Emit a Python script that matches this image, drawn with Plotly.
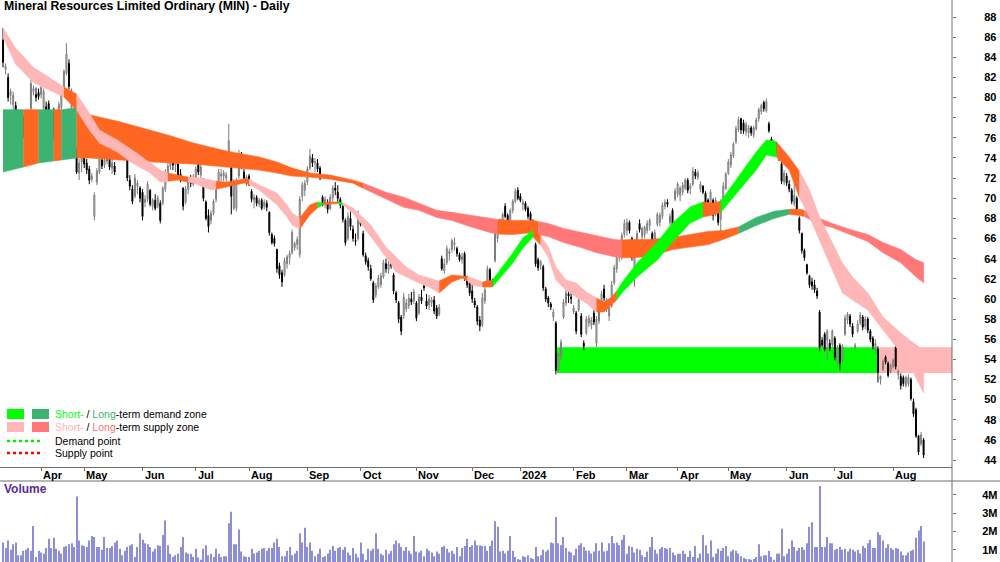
import pandas as pd
import plotly.graph_objects as go

TITLE = "Mineral Resources Limited Ordinary (MIN) - Daily"
START, END = "2023-03-13", "2024-08-19"
ASX_HOLIDAYS = ["2023-04-07", "2023-04-10", "2023-04-25", "2023-06-12", "2023-12-25", "2023-12-26",
                "2024-01-01", "2024-01-26", "2024-03-29", "2024-04-01", "2024-04-25", "2024-06-10"]

opens = [
    85.7, 82.8, 82.0, 80.2, 79.3, 79.2, 78.3, 77.3, 77.9, 76.6,
    77.2, 78.9, 80.6, 80.3, 80.5, 80.3, 78.9, 79.1, 79.4, 77.0,
    78.6, 77.0, 78.1, 79.0, 81.0, 82.4, 83.4, 79.0, 77.7, 74.7,
    72.5, 73.6, 74.0, 73.5, 72.9, 71.9, 68.2, 71.6, 72.6, 73.8,
    73.3, 73.7, 74.2, 73.0, 73.2, 74.0, 75.4, 75.8, 74.6, 74.8,
    71.8, 70.9, 70.2, 71.2, 71.0, 70.6, 69.6, 69.9, 70.8, 69.2,
    69.8, 69.2, 69.5, 69.5, 70.9, 72.4, 73.2, 73.8, 73.3, 73.4,
    72.4, 71.0, 69.6, 70.9, 71.6, 71.4, 72.0, 73.4, 72.3, 71.8,
    69.6, 68.3, 67.8, 68.5, 69.9, 71.5, 72.2, 72.2, 72.0, 73.7,
    73.6, 69.0, 69.0, 72.2, 74.4, 72.6, 71.8, 72.2, 70.7, 69.8,
    70.1, 69.4, 69.8, 69.2, 69.5, 68.6, 66.4, 66.0, 64.9, 63.3,
    62.6, 62.4, 63.5, 64.1, 64.6, 65.1, 65.4, 64.4, 70.2, 70.8,
    71.6, 73.0, 74.0, 73.5, 73.5, 73.0, 70.1, 69.6, 69.5, 69.0,
    70.0, 71.0, 70.6, 69.9, 69.2, 67.8, 66.0, 68.0, 66.9, 65.8,
    66.0, 67.7, 66.5, 64.3, 63.8, 63.0, 61.6, 60.4, 61.2, 61.4,
    62.2, 63.5, 62.9, 63.6, 62.4, 60.6, 59.6, 58.2, 58.3, 59.0,
    59.3, 60.0, 59.8, 59.6, 58.6, 60.2, 61.3, 59.8, 59.4, 59.6,
    59.9, 59.1, 58.5, 64.0, 62.8, 63.6, 64.5, 64.9, 65.4, 65.0,
    64.4, 63.9, 64.5, 62.1, 61.6, 60.8, 59.8, 59.2, 57.9, 57.4,
    59.8, 61.4, 62.9, 61.7, 63.8, 66.0, 66.9, 67.5, 69.2, 68.3,
    67.8, 68.8, 69.7, 70.8, 70.2, 69.4, 69.5, 69.0, 68.5, 67.6,
    65.4, 63.9, 63.3, 63.2, 61.0, 60.1, 59.5, 58.2, 57.6, 53.0,
    54.4, 58.2, 59.6, 60.5, 60.2, 58.7, 58.6, 58.9, 58.3, 55.6,
    56.6, 57.6, 57.4, 58.6, 55.6, 57.8, 59.0, 61.0, 59.0, 58.3,
    59.3, 61.6, 63.0, 64.2, 64.5, 66.4, 66.8, 67.6, 66.0, 62.5,
    65.6, 67.5, 66.2, 66.4, 66.8, 67.3, 66.5, 65.8, 67.4, 67.6,
    68.2, 69.2, 69.6, 67.6, 68.8, 69.9, 70.4, 70.3, 70.6, 71.0,
    71.8, 71.0, 71.4, 72.6, 72.1, 70.9, 71.2, 70.5, 69.8, 69.0,
    69.8, 68.5, 69.0, 67.9, 69.6, 71.0, 72.5, 73.3, 74.2, 75.6,
    76.8, 77.9, 77.5, 76.6, 76.5, 77.0, 76.3, 76.9, 77.9, 78.6,
    79.5, 78.7, 77.4, 75.9, 75.2, 75.4, 74.8, 73.4, 71.6, 72.2,
    71.4, 70.8, 69.5, 70.0, 68.0, 66.5, 64.8, 63.4, 62.3, 61.7,
    61.4, 60.8, 58.7, 55.9, 56.5, 55.9, 55.6, 55.5, 56.1, 53.8,
    55.4, 54.0, 56.5, 57.9, 58.3, 57.3, 55.2, 56.8, 57.6, 58.2,
    57.3, 58.0, 56.8, 56.1, 54.9, 55.0, 52.0, 53.0, 54.2, 53.6,
    52.8, 53.3, 55.2, 52.5, 52.3, 52.2, 51.4, 51.6, 52.0, 49.8,
    49.0, 46.4, 45.6, 46.0]

highs = [
    86.9, 83.4, 82.4, 80.9, 80.6, 79.6, 78.8, 78.6, 78.2, 77.8,
    77.6, 81.8, 81.2, 81.0, 80.9, 81.3, 80.9, 79.6, 79.7, 78.6,
    79.0, 78.3, 79.6, 80.6, 82.8, 85.4, 83.8, 80.9, 80.0, 75.0,
    73.9, 74.6, 74.2, 73.9, 73.2, 72.5, 70.6, 73.0, 74.2, 74.3,
    74.1, 74.6, 74.4, 73.9, 73.6, 75.9, 76.9, 76.0, 75.2, 75.1,
    72.3, 71.3, 72.4, 71.8, 71.2, 70.9, 70.3, 71.7, 70.9, 70.0,
    70.4, 70.3, 69.8, 71.2, 72.9, 73.5, 74.3, 74.2, 73.9, 73.6,
    72.9, 71.1, 71.2, 72.0, 72.3, 72.4, 73.2, 73.8, 73.5, 72.0,
    69.8, 68.9, 68.8, 69.9, 71.6, 72.9, 72.9, 72.8, 72.6, 77.4,
    73.9, 71.9, 72.0, 74.8, 74.6, 72.9, 72.3, 72.4, 70.9, 70.4,
    70.3, 70.0, 70.0, 69.9, 69.8, 68.7, 66.6, 66.3, 65.0, 63.6,
    62.9, 64.1, 64.4, 64.8, 66.9, 65.7, 66.2, 70.2, 71.6, 71.8,
    73.2, 74.9, 74.4, 74.0, 73.9, 73.2, 70.3, 70.2, 69.9, 70.4,
    71.3, 71.6, 71.3, 70.1, 69.4, 68.0, 68.6, 68.7, 67.3, 66.5,
    68.8, 68.0, 66.8, 64.6, 64.1, 63.4, 61.8, 61.6, 62.4, 62.6,
    63.9, 64.0, 63.8, 64.2, 62.6, 60.8, 59.8, 58.4, 60.6, 60.0,
    60.5, 60.7, 61.0, 59.8, 60.5, 60.9, 61.8, 60.5, 60.4, 60.2,
    60.3, 59.4, 59.5, 64.3, 64.0, 65.3, 65.0, 66.0, 66.1, 65.2,
    64.6, 64.6, 64.7, 62.3, 61.8, 61.4, 60.1, 59.4, 58.3, 60.6,
    61.2, 63.3, 63.1, 62.0, 67.0, 67.4, 68.0, 68.6, 69.5, 68.5,
    69.0, 69.9, 71.0, 71.1, 70.5, 69.9, 69.7, 69.2, 68.7, 67.9,
    65.6, 64.1, 63.9, 63.4, 61.2, 60.3, 59.7, 59.0, 57.8, 54.7,
    56.0, 60.0, 61.0, 60.9, 60.9, 59.4, 58.8, 60.2, 58.6, 55.9,
    58.3, 58.4, 58.2, 58.9, 58.3, 59.4, 60.8, 61.4, 60.1, 59.5,
    61.8, 63.4, 64.7, 65.4, 66.6, 67.9, 68.0, 67.8, 66.2, 64.6,
    66.8, 67.9, 67.2, 67.3, 67.8, 68.0, 66.7, 66.9, 68.6, 68.6,
    69.6, 69.9, 69.9, 68.5, 69.0, 71.0, 71.6, 71.2, 71.6, 72.0,
    72.0, 71.5, 73.1, 72.9, 72.8, 71.7, 71.3, 70.7, 70.0, 70.9,
    70.0, 70.1, 69.2, 69.9, 71.6, 72.6, 73.9, 74.6, 75.6, 77.2,
    78.1, 78.0, 77.8, 77.6, 77.3, 77.2, 77.2, 78.0, 79.0, 79.4,
    79.7, 79.9, 77.6, 76.1, 75.8, 75.6, 75.0, 73.6, 72.8, 72.5,
    71.8, 71.0, 72.6, 70.2, 68.2, 66.6, 65.0, 63.5, 62.4, 62.1,
    61.9, 61.1, 58.9, 56.2, 56.7, 57.0, 56.0, 57.0, 56.3, 55.4,
    55.6, 55.5, 58.4, 58.7, 58.5, 57.6, 55.6, 57.9, 58.7, 58.4,
    58.3, 58.2, 57.0, 56.3, 56.0, 55.3, 52.4, 54.0, 54.4, 53.8,
    53.6, 54.1, 55.5, 53.0, 52.6, 52.4, 52.4, 52.5, 52.2, 50.1,
    49.2, 46.5, 46.8, 46.2]

lows = [
    83.0, 82.3, 79.6, 79.3, 78.4, 77.4, 77.0, 76.8, 76.0, 76.2,
    76.1, 78.6, 80.2, 79.6, 79.8, 79.9, 78.5, 78.0, 76.4, 76.5,
    75.8, 76.8, 77.9, 78.8, 80.8, 82.2, 80.8, 78.6, 77.3, 72.4,
    71.8, 72.6, 73.0, 72.4, 71.4, 71.6, 67.8, 71.3, 72.4, 72.9,
    73.0, 73.4, 72.8, 72.4, 72.3, 73.8, 75.0, 74.4, 74.0, 71.7,
    70.8, 69.4, 70.0, 70.4, 69.6, 67.8, 69.1, 69.6, 69.2, 68.8,
    68.8, 69.0, 67.5, 69.3, 70.6, 72.1, 72.8, 72.8, 72.6, 72.0,
    71.6, 68.8, 69.4, 70.4, 71.1, 71.2, 71.8, 72.3, 72.0, 69.7,
    67.8, 66.6, 67.4, 68.3, 69.6, 71.3, 71.7, 71.7, 71.5, 73.4,
    68.4, 68.8, 68.7, 71.9, 72.9, 71.7, 71.2, 71.2, 69.6, 69.0,
    69.2, 69.1, 68.8, 68.9, 68.7, 66.3, 65.4, 65.2, 62.6, 62.0,
    61.2, 62.2, 63.0, 63.4, 64.4, 64.8, 64.9, 64.1, 69.7, 70.2,
    71.3, 72.8, 73.1, 72.6, 72.6, 71.8, 69.2, 69.0, 68.5, 68.8,
    69.7, 70.3, 69.6, 69.0, 67.6, 65.3, 65.8, 66.8, 65.7, 65.3,
    65.8, 67.2, 64.2, 63.4, 62.8, 61.8, 59.6, 60.1, 61.0, 61.1,
    62.0, 62.6, 62.5, 63.0, 60.5, 59.6, 57.6, 56.4, 58.0, 58.7,
    59.0, 59.4, 59.5, 57.8, 58.4, 59.5, 60.8, 59.0, 58.9, 59.2,
    58.5, 58.0, 58.3, 62.8, 62.5, 63.4, 63.8, 64.6, 64.8, 64.2,
    63.7, 63.5, 61.8, 61.1, 60.3, 59.6, 59.1, 57.4, 56.8, 57.2,
    59.5, 61.2, 61.2, 61.3, 63.6, 65.6, 66.6, 67.1, 68.0, 67.4,
    67.6, 68.5, 69.5, 69.8, 69.6, 68.8, 68.7, 67.9, 66.7, 66.6,
    63.2, 62.8, 62.9, 60.8, 59.7, 59.2, 58.9, 57.8, 52.5, 52.8,
    54.0, 58.0, 59.3, 59.6, 59.5, 58.5, 56.5, 58.7, 56.2, 54.9,
    56.4, 57.2, 57.0, 57.4, 55.2, 57.5, 58.8, 59.8, 58.7, 57.8,
    59.1, 61.4, 62.6, 63.7, 63.9, 66.1, 66.3, 66.5, 63.8, 61.2,
    65.4, 66.6, 65.8, 66.0, 66.5, 66.8, 64.7, 65.5, 67.2, 67.2,
    67.9, 68.9, 69.1, 67.3, 67.1, 69.7, 70.1, 69.7, 70.3, 70.8,
    70.5, 70.4, 71.2, 71.9, 71.8, 70.6, 70.4, 69.0, 68.6, 68.8,
    67.8, 68.2, 67.3, 66.5, 69.4, 70.8, 72.3, 73.0, 74.0, 75.4,
    76.6, 76.4, 76.4, 76.2, 76.0, 76.2, 76.0, 76.7, 77.6, 78.3,
    78.6, 78.5, 76.5, 74.9, 74.9, 74.4, 73.7, 71.4, 71.3, 71.2,
    70.6, 69.4, 69.2, 68.5, 66.5, 64.5, 63.8, 62.4, 61.1, 60.9,
    60.6, 60.0, 54.8, 55.2, 54.8, 54.0, 54.8, 55.2, 53.9, 53.5,
    52.9, 53.7, 56.3, 57.5, 57.2, 56.2, 55.0, 56.6, 57.4, 56.9,
    57.0, 56.6, 55.7, 55.0, 54.6, 51.7, 51.5, 52.8, 53.5, 52.2,
    52.6, 53.1, 53.0, 52.0, 51.0, 51.3, 51.2, 51.3, 49.9, 48.3,
    46.2, 44.5, 45.4, 44.2]

closes = [
    83.5, 83.1, 80.0, 80.6, 80.2, 77.8, 77.3, 78.2, 76.4, 77.4,
    76.5, 81.4, 80.9, 80.0, 80.1, 81.0, 80.6, 78.4, 76.8, 78.2,
    76.3, 77.9, 79.3, 80.3, 82.6, 84.3, 81.1, 80.6, 78.7, 72.6,
    73.5, 74.1, 73.4, 72.8, 71.8, 72.2, 70.3, 72.7, 73.9, 73.2,
    73.8, 74.3, 73.1, 73.5, 72.6, 75.6, 76.5, 74.7, 74.9, 72.0,
    71.2, 69.7, 72.0, 71.5, 70.0, 68.2, 69.9, 71.4, 69.4, 69.8,
    69.0, 70.0, 67.8, 71.0, 72.6, 73.2, 74.0, 73.3, 73.6, 72.2,
    71.9, 69.2, 70.9, 71.7, 71.5, 72.1, 72.9, 72.6, 73.1, 70.0,
    68.0, 67.2, 68.5, 69.7, 71.3, 72.6, 72.4, 72.5, 72.3, 75.7,
    70.2, 71.5, 71.7, 74.4, 73.1, 72.0, 72.1, 71.5, 69.9, 70.1,
    69.5, 69.8, 69.0, 69.6, 69.1, 66.6, 65.6, 65.5, 63.0, 62.4,
    61.7, 63.8, 64.2, 64.5, 66.6, 65.5, 65.9, 69.9, 71.3, 71.5,
    72.9, 74.2, 73.5, 73.6, 72.9, 72.0, 69.5, 69.9, 68.9, 70.1,
    71.0, 70.8, 70.0, 69.3, 67.9, 65.6, 68.2, 67.2, 66.0, 65.7,
    68.4, 67.4, 64.4, 63.7, 63.2, 62.0, 59.9, 61.3, 62.1, 62.3,
    63.6, 63.0, 63.5, 63.3, 60.8, 59.9, 58.0, 56.8, 60.2, 59.6,
    60.1, 59.7, 60.7, 58.1, 60.2, 59.8, 61.1, 59.3, 60.0, 59.9,
    58.8, 58.3, 59.2, 63.0, 63.5, 65.0, 64.7, 65.8, 65.6, 64.5,
    63.9, 64.2, 62.1, 61.4, 60.6, 60.0, 59.4, 57.8, 57.3, 60.1,
    60.9, 63.0, 61.6, 61.5, 66.6, 67.1, 67.7, 68.4, 68.2, 67.7,
    68.8, 69.7, 70.7, 70.0, 69.8, 69.6, 68.9, 68.2, 67.0, 66.9,
    63.5, 63.1, 63.7, 61.1, 60.0, 59.6, 59.2, 58.7, 52.9, 54.5,
    55.7, 59.7, 60.6, 60.3, 60.0, 59.1, 56.8, 59.9, 56.5, 55.3,
    58.0, 58.1, 57.9, 57.7, 58.0, 59.1, 60.5, 60.1, 59.7, 59.1,
    61.4, 63.1, 64.4, 65.1, 66.3, 67.5, 67.6, 66.8, 64.1, 64.2,
    66.5, 66.9, 67.0, 67.1, 67.5, 67.8, 65.6, 66.6, 68.4, 68.3,
    69.3, 69.6, 69.4, 68.2, 67.3, 70.7, 71.4, 71.0, 71.3, 71.8,
    70.8, 71.2, 72.7, 72.2, 72.5, 71.4, 70.6, 69.3, 68.9, 70.6,
    68.3, 69.8, 67.6, 69.6, 71.2, 72.4, 73.6, 74.3, 75.4, 76.9,
    77.8, 76.8, 76.7, 77.3, 77.0, 76.5, 77.0, 77.8, 78.8, 79.2,
    78.9, 79.6, 76.7, 75.2, 75.6, 74.7, 74.0, 71.7, 72.5, 71.5,
    70.9, 69.7, 70.3, 68.8, 66.8, 64.8, 64.1, 62.6, 61.4, 61.3,
    60.9, 60.3, 55.2, 55.4, 55.0, 56.8, 55.1, 56.8, 54.2, 55.1,
    53.6, 55.3, 58.1, 58.5, 57.5, 56.5, 55.4, 57.5, 58.4, 57.2,
    58.0, 56.9, 56.0, 55.3, 55.6, 52.7, 52.3, 53.8, 53.7, 52.4,
    53.4, 53.9, 53.3, 52.8, 51.4, 51.6, 52.2, 52.2, 50.1, 48.6,
    46.4, 44.8, 46.5, 44.5]

# volume in millions of shares
volume_m = [
    1.4, 1.1, 1.5, 1.0, 1.3, 1.4, 0.7, 0.7, 0.95, 1.0,
    1.1, 0.95, 2.3, 0.6, 0.95, 0.85, 0.78, 1.1, 1.6, 1.1,
    1.65, 1.05, 0.95, 0.8, 1.15, 1.2, 1.3, 1.35, 1.15, 3.9,
    1.5, 1.25, 1.2, 1.15, 1.5, 1.75, 1.7, 1.15, 1.15, 1.0,
    1.7, 1.1, 1.1, 1.2, 1.4, 1.5, 1.05, 0.7, 0.95, 1.15,
    1.25, 1.3, 0.6, 1.15, 1.9, 1.55, 1.35, 1.3, 1.15, 0.9,
    1.05, 1.25, 1.2, 1.8, 2.6, 1.25, 0.78, 0.6, 0.7, 0.8,
    1.15, 1.7, 0.85, 0.78, 0.78, 0.6, 1.05, 0.58, 0.45, 1.05,
    1.25, 0.7, 0.78, 0.6, 1.05, 0.78, 0.6, 0.65, 0.65, 2.45,
    3.07, 1.3, 1.3, 2.1, 0.9, 0.65, 0.6, 0.6, 1.05, 0.8,
    0.85, 0.95, 1.05, 1.1, 0.95, 1.1, 1.1, 1.4, 1.6, 1.15,
    0.65, 0.65, 0.95, 1.15, 0.7, 0.8, 0.95, 1.9, 1.4, 2.2,
    1.15, 1.4, 0.95, 0.65, 0.78, 1.05, 0.6, 0.65, 0.8, 1.0,
    1.2, 0.95, 1.1, 1.15, 1.0, 1.15, 0.85, 0.7, 1.1, 0.78,
    0.58, 1.4, 0.78, 0.45, 1.05, 0.95, 1.05, 1.9, 1.05, 0.78,
    0.7, 1.0, 0.78, 0.95, 1.3, 1.5, 1.35, 1.15, 0.95, 1.15,
    0.95, 0.78, 1.75, 0.9, 0.85, 0.95, 0.65, 1.05, 0.95, 0.85,
    0.65, 0.9, 0.78, 1.15, 1.2, 1.05, 0.85, 0.95, 0.78, 1.15,
    0.65, 1.1, 1.2, 1.6, 1.15, 1.25, 1.5, 1.25, 1.25, 1.2,
    1.2, 0.95, 1.2, 1.5, 2.55, 2.25, 0.9, 0.95, 0.8, 0.95,
    1.75, 0.95, 0.6, 0.5, 0.45, 0.65, 0.6, 0.7, 0.55, 0.5,
    1.15, 0.65, 0.7, 1.0, 0.9, 1.0, 1.4, 1.35, 2.78, 1.35,
    1.25, 1.7, 1.1, 0.9, 0.85, 0.7, 1.05, 1.25, 1.35, 1.15,
    0.95, 0.95, 0.8, 0.9, 1.35, 0.95, 1.4, 0.9, 0.95, 1.35,
    1.75, 1.35, 1.4, 1.25, 1.55, 1.8, 0.78, 1.2, 1.15, 0.85,
    1.05, 1.0, 0.7, 0.6, 0.9, 1.15, 1.7, 1.0, 0.78, 1.05,
    1.15, 1.1, 1.05, 1.1, 0.85, 0.7, 0.78, 0.78, 0.95, 0.78,
    0.6, 0.95, 0.6, 1.2, 0.55, 0.8, 1.8, 1.25, 0.8, 1.5,
    0.6, 0.8, 1.05, 0.95, 1.1, 1.2, 0.65, 0.9, 1.0, 0.95,
    0.8, 0.65, 0.55, 0.5, 0.5, 0.45, 0.5, 0.6, 1.3, 0.65,
    0.7, 0.7, 0.95, 0.6, 0.45, 0.78, 0.8, 2.15, 0.65, 0.78,
    1.05, 1.5, 1.15, 0.95, 1.1, 1.15, 1.0, 1.35, 2.25, 2.5,
    1.15, 1.15, 4.48, 1.15, 1.15, 1.7, 1.35, 1.35, 1.0, 1.05,
    1.15, 1.0, 1.05, 0.9, 1.05, 1.0, 0.9, 1.0, 0.8, 1.2,
    1.1, 1.35, 1.55, 1.1, 1.1, 1.95, 1.8, 1.5, 1.1, 1.3,
    1.1, 1.0, 1.1, 1.05, 0.9, 0.7, 0.7, 0.85, 0.95, 1.0,
    1.65, 2.05, 2.3, 1.45]

# Long-term band (trading-day index, upper, lower)
long_idx = [0, 8, 14, 20, 23, 29, 34, 46, 58, 66,
            75, 88, 101, 108, 114, 121, 129, 138, 142, 145,
            151, 158, 164, 171, 177, 184, 192, 195, 201, 209,
            211, 215, 221, 228, 234, 241, 244, 247, 255, 264,
            278, 284, 290, 297, 304, 310, 314, 316, 321, 327,
            334, 341, 347, 354, 360, 363]
long_up = [78.8, 78.8, 78.8, 78.8, 78.8, 79.0, 78.3, 77.6, 76.8, 76.2,
           75.5, 74.7, 74.1, 73.6, 73.0, 72.5, 72.3, 71.8, 71.5, 71.2,
           70.6, 70.1, 69.5, 68.8, 68.6, 68.3, 68.0, 67.9, 67.8, 67.8,
           67.7, 67.5, 67.0, 66.6, 66.3, 65.9, 65.85, 65.9, 65.9, 66.1,
           66.7, 66.8, 67.15, 68.1, 68.7, 68.9, 68.9, 68.8, 68.1, 67.5,
           66.9, 66.4, 65.6, 64.9, 63.9, 63.6]
long_lo = [72.6, 73.1, 73.5, 73.7, 73.8, 74.0, 74.0, 73.8, 73.6, 73.5,
           73.4, 73.1, 72.8, 72.5, 72.2, 72.1, 71.9, 71.5, 71.0, 70.6,
           69.9, 69.1, 68.8, 68.1, 67.8, 67.2, 66.6, 66.45, 66.4, 66.6,
           66.4, 66.2, 65.6, 65.1, 64.6, 64.2, 64.1, 64.1, 64.2, 64.9,
           65.4, 65.9, 66.5, 67.3, 68.0, 68.4, 68.3, 68.2, 67.5, 67.1,
           66.4, 65.7, 64.6, 63.6, 62.2, 61.6]
# state from each listed index onward: D = demand, S = supply, N = neutral
long_state = [(0, "D"), (8, "N"), (14, "D"), (20, "N"), (23, "D"), (29, "N"), (142, "S"),
              (195, "N"), (211, "S"), (244, "N"), (290, "D"), (310, "N"), (316, "S")]

# Short-term band
short_idx = [0, 5, 12, 19, 24, 29, 34, 38, 45, 51,
             58, 62, 65, 69, 73, 75, 82, 84, 88, 95,
             97, 101, 108, 112, 114, 117, 121, 124, 126, 129,
             132, 134, 138, 145, 151, 155, 159, 164, 168, 172,
             177, 181, 183, 185, 189, 193, 196, 201, 205, 209,
             212, 215, 218, 222, 226, 230, 234, 237, 240, 242,
             244, 250, 258, 264, 271, 276, 280, 283, 291, 297,
             301, 305, 310, 314, 318, 322, 327, 331, 335, 341,
             347, 354, 359, 363]
short_up = [86.9, 84.9, 83.0, 81.9, 81.05, 80.35, 78.47, 76.78, 75.79, 74.79,
            73.5, 72.81, 72.5, 72.31, 72.1, 72.11, 71.81, 71.7, 71.6, 71.91,
            71.9, 71.32, 70.52, 69.33, 68.54, 68.04, 69.33, 69.63, 69.53, 69.63,
            69.63, 69.53, 69.03, 67.34, 65.16, 64.17, 63.17, 62.38, 62.08, 61.78,
            62.38, 62.28, 62.2, 62.08, 61.68, 61.88, 62.88, 64.56, 66.05, 66.85,
            66.25, 65.16, 63.17, 61.88, 61.58, 60.69, 60.1, 59.7, 60.19, 60.8,
            61.58, 63.57, 65.66, 67.54, 69.13, 69.63, 69.53, 69.7, 72.51, 74.59,
            75.79, 75.6, 74.1, 72.7, 70.82, 68.14, 65.56, 63.57, 62.18, 60.59,
            58.21, 56.62, 55.63, 54.93]
short_lo = [86.0, 83.3, 81.5, 80.65, 80.06, 78.76, 76.78, 75.49, 74.59, 73.5,
            72.51, 71.61, 71.7, 71.81, 71.6, 71.52, 70.82, 70.9, 71.12, 71.52,
            71.4, 70.82, 69.33, 68.14, 67.34, 66.95, 68.34, 69.03, 69.33, 69.43,
            69.48, 69.33, 68.54, 66.15, 64.17, 62.68, 62.18, 61.58, 61.19, 60.59,
            61.68, 62.08, 61.8, 61.39, 61.19, 61.19, 62.08, 63.57, 65.06, 66.15,
            65.36, 64.17, 61.88, 60.89, 60.19, 59.6, 58.71, 58.71, 59.4, 59.9,
            60.59, 62.18, 63.87, 65.66, 67.54, 68.14, 68.34, 68.6, 71.02, 72.81,
            74.3, 74.1, 72.81, 70.1, 68.14, 65.85, 62.88, 60.59, 59.9, 58.9,
            56.92, 54.63, 52.65, 50.66]
short_state = [(0, "S"), (24, "N"), (29, "S"), (65, "N"), (73, "S"), (84, "N"), (97, "S"),
               (117, "N"), (124, "D"), (126, "N"), (132, "D"), (134, "S"), (172, "N"),
               (183, "S"), (189, "N"), (193, "D"), (209, "N"), (212, "S"), (234, "N"),
               (242, "D"), (276, "N"), (283, "D"), (305, "N"), (314, "S")]

# Zones: (start index, end index, low, high)
demand_zone = (218, 345, 52.65, 55.2)
supply_zone = (345, None, 52.65, 55.2)

# ---------------------------------------------------------------------------
dates = [d for d in pd.bdate_range(START, END) if d.strftime("%Y-%m-%d") not in ASX_HOLIDAYS]
n = min(len(dates), len(closes))
xs = list(range(n))

month_idx, month_lbl = [], []
for i in range(1, n):
    if dates[i].month != dates[i - 1].month:
        month_idx.append(i)
        month_lbl.append(str(dates[i].year) if dates[i].month == 1 else dates[i].strftime("%b"))

C_LONG = {"D": "#3CB371", "S": "#FF7777", "N": "#FF6622"}
C_SHORT = {"D": "#00FF00", "S": "#FFB6B6", "N": "#FF6622"}
FONT = "Liberation Sans, Arial, sans-serif"

X_MIN, X_MAX = -1.2, 374.2
Y_MIN, Y_MAX = 43.31, 89.69
H = 562.0
def py(px):
    return 1 - px / H

fig = go.Figure()

def add_band(idx, up, lo, states, colors):
    for k, (s, code) in enumerate(states):
        e = states[k + 1][0] if k + 1 < len(states) else idx[-1]
        sel = [j for j in range(len(idx)) if s <= idx[j] <= e]
        px_ = [idx[j] for j in sel] + [idx[j] for j in reversed(sel)]
        py_ = [up[j] for j in sel] + [lo[j] for j in reversed(sel)]
        fig.add_trace(go.Scatter(x=px_, y=py_, mode="lines", fill="toself",
                                 fillcolor=colors[code], line=dict(color=colors[code], width=0.6),
                                 hoverinfo="skip", showlegend=False, xaxis="x", yaxis="y"))

add_band(long_idx, long_up, long_lo, long_state, C_LONG)
add_band(short_idx, short_up, short_lo, short_state, C_SHORT)

fig.add_trace(go.Candlestick(
    x=xs, open=opens[:n], high=highs[:n], low=lows[:n], close=closes[:n],
    increasing=dict(line=dict(color="#7C7C7C", width=1), fillcolor="#D6D6D6"),
    decreasing=dict(line=dict(color="#000000", width=1), fillcolor="#000000"),
    whiskerwidth=0, showlegend=False, xaxis="x", yaxis="y",
    text=[d.strftime("%d %b %Y") for d in dates[:n]], hoverinfo="text+y"))

fig.add_trace(go.Bar(x=xs, y=volume_m[:n], marker=dict(color="#8E8ED8", line=dict(width=0)),
                     showlegend=False, xaxis="x2", yaxis="y2", hoverinfo="skip"))

shapes = []
# zones
dz0, dz1, dzl, dzh = demand_zone
shapes.append(dict(type="rect", xref="x", yref="y", x0=dz0 + 0.45, x1=dz1, y0=dzl, y1=dzh,
                   fillcolor="#00FF00", line=dict(width=0), layer="below"))
sz0, _, szl, szh = supply_zone
shapes.append(dict(type="rect", xref="x", yref="y", x0=sz0, x1=X_MAX, y0=szl, y1=szh,
                   fillcolor="#FFB6B6", line=dict(width=0), layer="below"))
# frame lines
shapes.append(dict(type="line", xref="paper", yref="paper", x0=0.952, x1=0.952, y0=0, y1=1,
                   line=dict(color="#6E6E6E", width=1)))
shapes.append(dict(type="line", xref="paper", yref="paper", x0=0, x1=1, y0=py(481), y1=py(481),
                   line=dict(color="#6E6E6E", width=1)))
# legend swatches
for (x0, x1, y0, y1, col) in [(7, 24, 409, 419, "#00FF00"), (32, 49, 409, 419, "#3CB371"),
                              (7, 24, 422, 432, "#FFB6B6"), (32, 49, 422, 432, "#FF7777")]:
    shapes.append(dict(type="rect", xref="paper", yref="paper", x0=x0 / 1000, x1=x1 / 1000,
                       y0=py(y1), y1=py(y0), fillcolor=col, line=dict(width=0)))
for (yy, col) in [(441, "#00EE00"), (453, "#FF0000")]:
    shapes.append(dict(type="line", xref="paper", yref="paper", x0=0.007, x1=0.043,
                       y0=py(yy), y1=py(yy), line=dict(color=col, width=2.5, dash="dot")))

annotations = []
annotations.append(dict(text="<b>" + TITLE + "</b>", xref="paper", yref="paper", x=0.002, y=py(6.5),
                        xanchor="left", yanchor="middle", showarrow=False,
                        font=dict(family=FONT, size=12.3, color="#000000")))
annotations.append(dict(text="<b>Volume</b>", xref="paper", yref="paper", x=0.002, y=py(489),
                        xanchor="left", yanchor="middle", showarrow=False,
                        font=dict(family=FONT, size=12, color="#5E2A96")))
legend_rows = [
    (414, '<span style="color:#00FF00">Short-</span> / <span style="color:#3CB371">Long</span>-term demand zone'),
    (427, '<span style="color:#FFB6B6">Short-</span> / <span style="color:#FF6F6F">Long</span>-term supply zone'),
    (441, "Demand point"),
    (453, "Supply point"),
]
for yy, txt in legend_rows:
    annotations.append(dict(text=txt, xref="paper", yref="paper", x=0.053, y=py(yy),
                            xanchor="left", yanchor="middle", showarrow=False,
                            font=dict(family=FONT, size=10.5, color="#000000")))
for i, lbl in zip(month_idx, month_lbl):
    annotations.append(dict(text="<b>" + lbl + "</b>", xref="x", yref="paper", x=i, y=py(474.5),
                            xanchor="left", yanchor="middle", xshift=0, showarrow=False,
                            font=dict(family=FONT, size=11, color="#000000")))

fig.update_layout(
    width=1000, height=562, margin=dict(l=0, r=0, t=0, b=0),
    paper_bgcolor="#FFFFFF", plot_bgcolor="#FFFFFF", showlegend=False,
    bargap=0.6, boxgap=0.45, shapes=shapes, annotations=annotations,
    xaxis=dict(domain=[0, 0.952], range=[X_MIN, X_MAX], anchor="y", showgrid=False, zeroline=False,
               showline=True, linecolor="#6E6E6E", linewidth=1, ticks="outside", ticklen=3,
               tickcolor="#6E6E6E", tickvals=month_idx, showticklabels=False,
               rangeslider=dict(visible=False)),
    yaxis=dict(domain=[py(467), 1], range=[Y_MIN, Y_MAX], side="right", anchor="x", showgrid=False,
               zeroline=False, showline=False, ticks="outside", ticklen=3, tickcolor="#6E6E6E",
               tickvals=list(range(44, 90, 2)), ticklabelstandoff=26,
               tickfont=dict(family=FONT, size=11, color="#000000", weight="bold")),
    xaxis2=dict(domain=[0, 0.952], range=[X_MIN, X_MAX], anchor="y2", showgrid=False, zeroline=False,
                showline=False, showticklabels=False, ticks=""),
    yaxis2=dict(domain=[0, py(481)], range=[0.33, 4.75], side="right", anchor="x2", showgrid=False,
                zeroline=False, showline=False, ticks="outside", ticklen=3, tickcolor="#6E6E6E",
                tickvals=[1, 2, 3, 4], ticktext=["1M", "2M", "3M", "4M"], ticklabelstandoff=24,
                tickfont=dict(family=FONT, size=11, color="#000000", weight="bold")),
)

fig.write_html("out.html")
